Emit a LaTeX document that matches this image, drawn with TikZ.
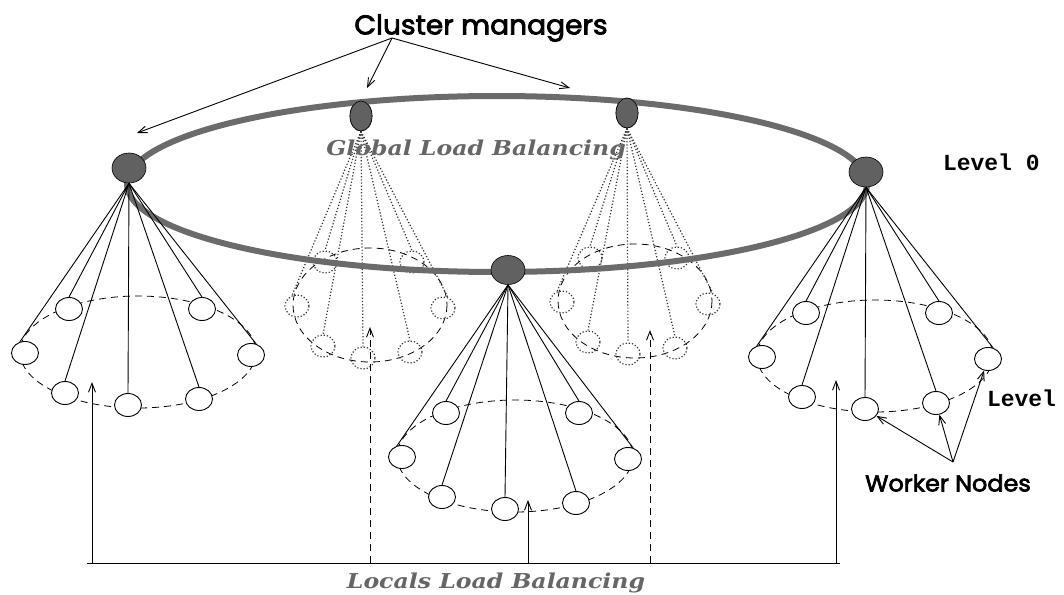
\documentclass[tikz,border=0pt]{standalone}
\usepackage{fontspec}
\usetikzlibrary{arrows.meta,calc,shapes.geometric}
\newfontfamily\cmfont[FakeBold=3,FakeStretch=1.04]{Poppins}
\newfontfamily\slabfont[FakeStretch=1.15]{DejaVu Serif}
\newfontfamily\levfont{Liberation Mono}
\newcommand{\frontcl}[3]{%
  \draw[baseell] #3 ellipse [x radius=118, y radius=56];
  \foreach \n/\dx/\dy in {a/-69/-43,b/64/-43,c/-113/1,d/113/3,e/-73/41,f/-10/53,g/61/47}{%
    \node[worker] (#1\n) at ($#3+(\dx,\dy)$) {};}
  \foreach \n/\an in {a/north,b/north,c/115,d/65,e/north,f/north,g/north}{%
    \draw[spoke] (#2.south) -- (#1\n.\an);}
}
\newcommand{\backcl}[3]{%
  \draw[baseell] #3 ellipse [x radius=77, y radius=57];
  \foreach \n/\dx/\dy in {a/-45/-43,b/42/-43,c/-73/1,d/73/3,e/-47/41,f/-7/53,g/40/47}{%
    \node[bworker] (#1\n) at ($#3+(\dx,\dy)$) {};}
  \foreach \n/\an in {a/north,b/north,c/115,d/65,e/north,f/north,g/north}{%
    \draw[bspoke] (#2.south) -- (#1\n.\an);}
}
\begin{document}
\begin{tikzpicture}[x=1pt,y=-1pt,
  ring/.style={draw=black!58, line width=6pt},
  mgr/.style={ellipse, draw=black, fill=black!62, line width=0.6pt, inner sep=0pt},
  worker/.style={ellipse, draw=black, fill=white, line width=0.9pt, minimum width=27pt, minimum height=23pt, inner sep=0pt},
  bworker/.style={ellipse, draw=black!80, dotted, line width=1.2pt, minimum width=24pt, minimum height=22pt, inner sep=0pt},
  spoke/.style={draw=black, line width=0.9pt},
  bspoke/.style={draw=black!80, dotted, line width=1.2pt},
  baseell/.style={draw=black, dash pattern=on 7pt off 5pt, line width=0.8pt},
  arr/.style={draw=black, -{Straight Barb[length=9pt,width=7pt]}, line width=0.9pt},
  darr/.style={arr, dash pattern=on 7pt off 5pt},
  lbl/.style={inner sep=0pt, outer sep=0pt}]
\useasboundingbox (0,0) rectangle (1064,594);
% back clusters
\node[mgr, minimum width=22pt, minimum height=30pt] (bm1) at (361,116) {};
\node[mgr, minimum width=22pt, minimum height=30pt] (bm2) at (627,113) {};
\backcl{lb}{bm1}{(370,305)}
\backcl{rb}{bm2}{(635,301)}
% ring
\draw[ring] (497,184) ellipse [x radius=370, y radius=88];
% managers
\node[mgr, minimum width=22pt, minimum height=30pt] at (361,116) {};
\node[mgr, minimum width=22pt, minimum height=30pt] at (627,113) {};
\node[mgr, minimum width=34pt, minimum height=30pt] (m1) at (129,168) {};
\node[mgr, minimum width=34pt, minimum height=29pt] (m2) at (508,270) {};
\node[mgr, minimum width=34pt, minimum height=30pt] (m3) at (866,172) {};
% front clusters
\frontcl{l}{m1}{(138,352)}
\frontcl{c}{m2}{(515,456)}
\frontcl{r}{m3}{(875,356)}
% labels
\node[lbl, font=\cmfont\fontsize{27}{30}\selectfont] (cm) at (481,28) {Cluster managers};
\node[lbl, font=\cmfont\fontsize{23}{26}\selectfont] (wn) at (948,483) {Worker Nodes};
\node[lbl, anchor=west, font=\levfont\bfseries\fontsize{23}{28}\selectfont] (l0) at (943,162) {Level 0};
\node[lbl, anchor=west, font=\levfont\bfseries\fontsize{23}{28}\selectfont] (l1) at (987,398) {Level};
\node[lbl, text=black!60, font=\slabfont\bfseries\itshape\fontsize{20.5}{24}\selectfont] (glb) at (476,150) {Global Load Balancing};
\node[lbl, text=black!60, font=\slabfont\bfseries\itshape\fontsize{20.5}{24}\selectfont] (llb) at (496,583) {Locals Load Balancing};
% cluster manager arrows
\coordinate (cmsrc) at (392,38);
\coordinate (cmt1) at (137,133);
\coordinate (cmt2) at (367,88);
\coordinate (cmt3) at (570,88);
\draw[arr] (cmsrc) -- (cmt1);
\draw[arr] (cmsrc) -- (cmt2);
\draw[arr] (cmsrc) -- (cmt3);
% worker node arrows
\coordinate (wnsrc) at (953,462);
\draw[arr] (wnsrc) -- (rf);
\draw[arr] (wnsrc) -- (rg);
\draw[arr] (wnsrc) -- (rd);
% local balancing
\coordinate (bl) at (87,563);
\coordinate (br) at (840,563);
\draw[line width=0.9pt] (bl) -- (br);
\coordinate (s1) at (92,563);   \coordinate (t1) at (92,382);
\coordinate (s2) at (370,563);  \coordinate (t2) at (370,327);
\coordinate (s3) at (528,563);  \coordinate (t3) at (528,500);
\coordinate (s4) at (650,563);  \coordinate (t4) at (650,330);
\coordinate (s5) at (836,563);  \coordinate (t5) at (836,380);
\draw[arr] (s1) -- (t1);
\draw[darr] (s2) -- (t2);
\draw[arr] (s3) -- (t3);
\draw[darr] (s4) -- (t4);
\draw[arr] (s5) -- (t5);
\end{tikzpicture}
\end{document}
